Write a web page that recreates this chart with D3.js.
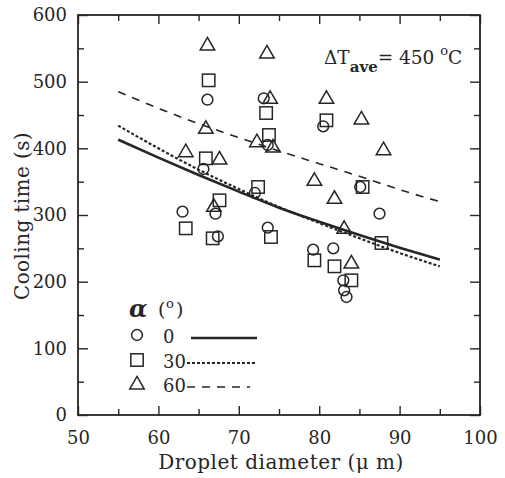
<!DOCTYPE html>
<html><head><meta charset="utf-8">
<script src="https://cdn.jsdelivr.net/npm/d3@7"></script>
<style>
html,body{margin:0;padding:0;background:#fff;}
text{font-family:"DejaVu Serif","Liberation Serif",serif;fill:#262626;}
</style></head>
<body><svg id="c" width="505" height="478"></svg>
<script>
// ---- data ----
const xTicks = [50, 60, 70, 80, 90, 100];
const yTicks = [0, 100, 200, 300, 400, 500, 600];
const alphaLabels = ["0", "30", "60"];
// alpha = 0 (circles)
const circlePts = [[66.1,473],[73.1,475],[65.6,369],[72,333],[63,305],[67.1,302],[67.4,268],[73.6,281],[73.6,405],[80.5,433],[85.1,342],[87.5,302],[79.25,248],[81.75,250],[83,202],[83.1,187],[83.4,177]];
// alpha = 30 (squares)
const squarePts = [[66.25,502],[65.9,385],[67.6,322],[63.4,280],[66.75,265],[72.4,342],[74,267],[73.4,453],[73.75,420],[80.9,442],[85.4,342],[87.75,258],[79.4,232],[81.9,223],[84,202]];
// alpha = 60 (triangles)
const trianglePts = [[66.1,555],[73.5,543],[73.9,475],[65.9,430],[63.4,395],[67.6,384],[66.9,313],[72.25,410],[74.25,402],[80.9,475],[85.25,444],[88,398],[79.4,352],[81.9,325],[83.1,280],[84,228]];
// fitted curves
const curveX = [55, 60, 65, 70, 75, 80, 85, 90, 95];
const fit0 = [413, 386, 360, 335, 311, 290, 270, 251, 233];
const fit30 = [434, 400, 368, 339, 312, 288, 265, 243, 223];
const fit60 = [485, 460, 437, 416, 396, 377, 358, 338, 320];

// ---- layout ----
const svg = d3.select("#c");
const L = 78, R = 480, T = 15, B = 415;
const x = d3.scaleLinear().domain([50, 100]).range([L, R]);
const y = d3.scaleLinear().domain([0, 600]).range([B, T]);
const ink = "#262626";

// frame
svg.append("rect").attr("x", L).attr("y", T).attr("width", R - L).attr("height", B - T)
  .attr("fill", "none").attr("stroke", ink).attr("stroke-width", 1.8);

function styleAxis(g) {
  g.select(".domain").remove();
  g.selectAll("line").attr("stroke", ink).attr("stroke-width", 1.4);
  g.selectAll("text").style("font-size", "18px").attr("fill", ink);
}
const xMinor = d3.range(55, 100, 10);
const yMinor = d3.range(50, 600, 100);

// bottom
svg.append("g").attr("transform", `translate(0,${B})`)
  .call(d3.axisBottom(x).tickValues(xTicks).tickSize(-9).tickPadding(16).tickFormat(d3.format("d")))
  .call(styleAxis);
svg.append("g").attr("transform", `translate(0,${B})`)
  .call(d3.axisBottom(x).tickValues(xMinor).tickSize(-6).tickFormat("")).call(styleAxis);
// top
svg.append("g").attr("transform", `translate(0,${T})`)
  .call(d3.axisTop(x).tickValues(xTicks).tickSize(-9).tickFormat("")).call(styleAxis);
svg.append("g").attr("transform", `translate(0,${T})`)
  .call(d3.axisTop(x).tickValues(xMinor).tickSize(-6).tickFormat("")).call(styleAxis);
// left
svg.append("g").attr("transform", `translate(${L},0)`)
  .call(d3.axisLeft(y).tickValues(yTicks).tickSize(-10).tickPadding(11).tickFormat(d3.format("d")))
  .call(styleAxis);
svg.append("g").attr("transform", `translate(${L},0)`)
  .call(d3.axisLeft(y).tickValues(yMinor).tickSize(-6).tickFormat("")).call(styleAxis);
// right
svg.append("g").attr("transform", `translate(${R},0)`)
  .call(d3.axisRight(y).tickValues(yTicks).tickSize(-10).tickFormat("")).call(styleAxis);
svg.append("g").attr("transform", `translate(${R},0)`)
  .call(d3.axisRight(y).tickValues(yMinor).tickSize(-6).tickFormat("")).call(styleAxis);

// axis titles
svg.append("text").attr("x", (L + R) / 2 + 2).attr("y", 469).attr("text-anchor", "middle")
  .style("font-size", "20px").style("letter-spacing", "0.5px").text("Droplet diameter (\u03bc m)");
svg.append("text").attr("transform", `translate(29,216) rotate(-90)`)
  .attr("text-anchor", "middle").style("font-size", "20px").style("letter-spacing", "0.4px").text("Cooling time (s)");

// curves
const lineGen = d3.line().x(d => x(d[0])).y(d => y(d[1])).curve(d3.curveMonotoneX);
const curves = [
  {vals: fit0, w: 2.6, dash: null},
  {vals: fit30, w: 2.2, dash: "3,2"},
  {vals: fit60, w: 1.6, dash: "8,7"}
];
curves.forEach(c => {
  svg.append("path").datum(curveX.map((d, i) => [d, c.vals[i]]))
    .attr("d", lineGen).attr("fill", "none").attr("stroke", ink)
    .attr("stroke-width", c.w).attr("stroke-dasharray", c.dash);
});

// markers
const sw = 1.5;
function drawCircle(g, cx, cy) {
  g.append("circle").attr("cx", cx).attr("cy", cy).attr("r", 5.4)
    .attr("fill", "none").attr("stroke", ink).attr("stroke-width", sw);
}
function drawSquare(g, cx, cy) {
  g.append("rect").attr("x", cx - 6.2).attr("y", cy - 6.2).attr("width", 12.4).attr("height", 12.4)
    .attr("fill", "none").attr("stroke", ink).attr("stroke-width", sw);
}
function drawTriangle(g, cx, cy) {
  const s = 14.5, h = s * Math.sqrt(3) / 2;
  g.append("path").attr("d", `M${cx},${cy - h * 0.6}L${cx + s / 2},${cy + h * 0.4}L${cx - s / 2},${cy + h * 0.4}Z`)
    .attr("fill", "none").attr("stroke", ink).attr("stroke-width", sw).attr("stroke-linejoin", "miter");
}
const gm = svg.append("g");
circlePts.forEach(p => drawCircle(gm, x(p[0]), y(p[1])));
squarePts.forEach(p => drawSquare(gm, x(p[0]), y(p[1])));
trianglePts.forEach(p => drawTriangle(gm, x(p[0]), y(p[1])));

// legend
const lg = svg.append("g");
lg.append("text").attr("x", 129).attr("y", 317).style("font-size", "24px").style("font-style", "italic").style("font-weight", "bold").text("\u03b1");
lg.append("text").attr("x", 158).attr("y", 316).style("font-size", "19px").text("(");
lg.append("text").attr("x", 166).attr("y", 308).style("font-size", "13px").text("o");
lg.append("text").attr("x", 176).attr("y", 316).style("font-size", "19px").text(")");
const legRows = [{y: 335, draw: drawCircle, w: 2.6, dash: null, x2: 257},
                 {y: 360, draw: drawSquare, w: 2.2, dash: "3,2", x2: 255},
                 {y: 384, draw: drawTriangle, w: 1.6, dash: "8,7", x2: 250}];
legRows.forEach((r, i) => {
  r.draw(lg, 137, r.y);
  lg.append("text").attr("x", 163).attr("y", r.y + 8).style("font-size", "18px").text(alphaLabels[i]);
  lg.append("line").attr("x1", i === 0 ? 191 : 187).attr("x2", r.x2).attr("y1", r.y + 3).attr("y2", r.y + 3)
    .attr("stroke", ink).attr("stroke-width", r.w).attr("stroke-dasharray", r.dash);
});

// annotation
const an = svg.append("text").attr("x", 324).attr("y", 64).style("font-size", "18.5px");
an.append("tspan").text("\u0394T");
an.append("tspan").attr("dy", 8).style("font-size", "15px").style("font-weight", "bold").text("ave");
an.append("tspan").attr("dy", -8).text("= 450 ");
an.append("tspan").attr("dy", -9).style("font-size", "13px").text("o");
an.append("tspan").attr("dy", 9).text("C");
</script></body></html>
